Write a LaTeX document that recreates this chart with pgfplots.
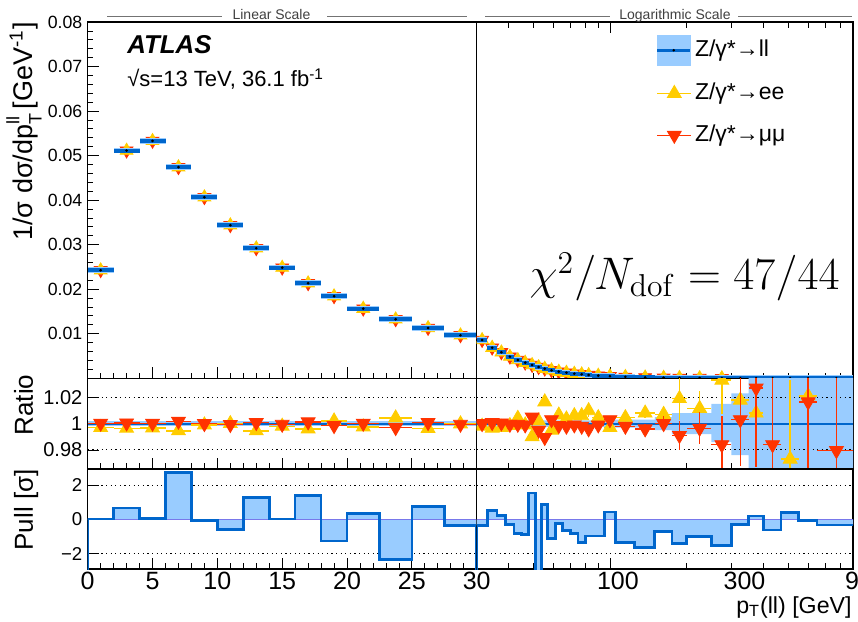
\documentclass[border=0pt]{standalone}
\usepackage[no-math]{fontspec}
\setmainfont{Liberation Sans}
\usepackage{graphicx}
\usepackage{pgfplots}
\pgfplotsset{compat=1.18}
\usepackage{pgfplotstable}
\definecolor{lb}{RGB}{153,204,255}
\definecolor{bl}{RGB}{0,102,204}
\definecolor{yel}{RGB}{255,204,0}
\definecolor{rd}{RGB}{255,51,0}
\definecolor{zl}{RGB}{120,120,235}

\pgfplotstableread{
x y xe
1 0.02425 1
3 0.05112 1
5 0.0533 1
7 0.0474 1
9 0.04065 1
11 0.03436 1
13 0.02919 1
15 0.02483 1
17 0.02132 1
19 0.0184 1
21.25 0.01562 1.25
23.75 0.01323 1.25
26.25 0.01128 1.25
28.75 0.00964 1.25
}\mainlin

\pgfplotstableread{
x y xe
31.5 0.00858 1.5
34.5 0.00686 1.5
37.5 0.00581 1.5
40.5 0.00484 1.5
43.5 0.00409 1.5
46.5 0.00349 1.5
49.5 0.00297 1.5
52.5 0.00250 1.5
55.5 0.00214 1.5
59 0.00177 2
63 0.00147 2
67.5 0.00124 2.5
72.5 0.00102 2.5
77.5 0.00087 2.5
82.5 0.00072 2.5
90 0.00058 5
100 0.00045 5
115 0.00030 10
137.5 0.00018 12.5
162.5 0.00011 12.5
187.5 0.000065 12.5
225 0.000035 25
275 0.000015 25
325 0.000007 25
375 0.0000035 25
435 0.0000016 35
510 0.0000007 40
600 0.0000003 50
775 0.0000001 125
}\mainlog

\pgfplotstableread{
x xe ee eee mm mme
1 1 0.997 0.0008 1.0003 0.0008
3 1 0.9965 0.0008 1.0005 0.0008
5 1 0.9967 0.0008 1.0003 0.0008
7 1 0.9945 0.0008 1.0018 0.0008
9 1 0.999 0.0008 1.0 0.0008
11 1 1.0 0.0008 0.9993 0.0008
13 1 0.9945 0.0008 1.0008 0.0008
15 1 0.998 0.0008 0.9995 0.0008
17 1 0.996 0.0008 1.0013 0.0008
19 1 1.002 0.0008 0.9985 0.0008
21.25 1.25 0.9975 0.0008 1.0003 0.0008
23.75 1.25 1.0043 0.0008 0.997 0.0008
26.25 1.25 0.9963 0.0008 1.0008 0.0008
28.75 1.25 0.9998 0.0008 0.9995 0.0008
}\ratiolin

\pgfplotstableread{
x xe y ye
31.5 1.5 0.998 0.001
34.5 1.5 0.9965 0.001
37.5 1.5 0.997 0.001
40.5 1.5 0.9985 0.0012
43.5 1.5 1.004 0.0015
46.5 1.5 0.999 0.0015
49.5 1.5 0.990 0.002
52.5 1.5 1.002 0.002
55.5 1.5 1.0165 0.003
59 2 0.995 0.002
63 2 1.0065 0.0025
67.5 2.5 1.0035 0.0025
72.5 2.5 1.006 0.003
77.5 2.5 1.006 0.003
82.5 2.5 1.0098 0.0045
90 5 1.0045 0.003
100 5 0.997 0.003
115 10 1.0045 0.003
137.5 12.5 1.008 0.004
162.5 12.5 1.007 0.006
187.5 12.5 1.019 0.016
225 25 1.0115 0.013
275 25 1.033 0.026
325 25 1.0178 0.03
375 25 1.008 0.012
510 40 0.973 0.06
600 50 1.021 0.05
}\ratioee

\pgfplotstableread{
x xe y ye
31.5 1.5 1.000 0.001
34.5 1.5 1.0008 0.001
37.5 1.5 1.0005 0.001
40.5 1.5 0.9995 0.0012
43.5 1.5 0.9995 0.0012
46.5 1.5 0.999 0.0015
49.5 1.5 1.005 0.002
52.5 1.5 0.995 0.002
55.5 1.5 0.9895 0.0025
59 2 1.003 0.002
63 2 0.9985 0.002
67.5 2.5 0.998 0.002
72.5 2.5 0.999 0.0025
77.5 2.5 0.998 0.003
82.5 2.5 0.996 0.003
90 5 0.999 0.0025
100 5 1.003 0.003
115 10 0.998 0.003
137.5 12.5 0.996 0.004
162.5 12.5 1.0 0.006
187.5 12.5 0.991 0.011
225 25 0.9965 0.012
275 25 0.984 0.022
325 25 1.003 0.035
375 25 1.027 0.06
435 35 0.984 0.06
600 50 1.0165 0.06
775 125 0.9795 0.06
}\ratiomm

\pgfplotsset{
  panel/.style={scale only axis, anchor=south west, tick align=inside,
    major tick length=5.5pt, minor tick length=2.8pt,
    tick style={black, line width=0.4pt},
    axis line style={line width=0.55pt},
    clip marker paths=true, scaled y ticks=false, scaled x ticks=false,
    yticklabel style={inner sep=2.5pt},
    xticklabel style={font=\fontsize{12.5}{14}\selectfont, inner sep=1.5pt}},
  linpanel/.style={panel, xmin=0, xmax=30, width=194.5pt,
    xtick={0,5,10,15,20,25,30}, minor x tick num=4},
  logpanel/.style={panel, xmin=30, xmax=900, width=188.15pt,
    xtick={100}, minor xtick={40,50,60,70,80,90,200,300,400,500,600,700,800,900},
    ytick=\empty},
  mainp/.style={at={(#1,121.9pt)}, height=178.1pt, ymin=0, ymax=0.08},
  ratp/.style={at={(#1,76.5pt)}, height=45.4pt, ymin=0.9655, ymax=1.0345},
  pullp/.style={at={(#1,26.5pt)}, height=50pt, ymin=-2.9, ymax=2.95},
  llhalo/.style={only marks, mark=*, mark size=0.01pt, lb, forget plot,
    error bars/.cd, x dir=both, x explicit, error mark=none,
    error bar style={line width=2.8pt, lb}},
  llbar/.style={only marks, mark=*, mark size=0.45pt, black, forget plot,
    error bars/.cd, x dir=both, x explicit, error mark=none,
    error bar style={line width=1.9pt, bl}},
  ptup/.style={only marks, mark=triangle*, mark size=#1, yel, forget plot},
  ptdn/.style={only marks, mark=triangle*, mark size=#1, rd, mark options={rotate=180}, forget plot},
  rerr/.style={error bars/.cd, x dir=both, x explicit, y dir=both, y explicit,
    error mark=none, error bar style={line width=0.7pt}},
  dotl/.style={black, line width=0.55pt, dash pattern=on 0.6pt off 1.7pt, forget plot},
}

\begin{document}
\begin{tikzpicture}
\useasboundingbox (0,0) rectangle (429pt,311pt);

% ---------- main linear ----------
\begin{axis}[linpanel, mainp=43.85pt, xticklabels={}, xtick pos=bottom,
  ytick={0,0.01,0.02,0.03,0.04,0.05,0.06,0.07,0.08},
  yticklabels={,0.01,0.02,0.03,0.04,0.05,0.06,0.07,0.08},
  minor y tick num=4, ytick pos=left,
  yticklabel style={font=\fontsize{8.85}{10}\selectfont}]
\addplot[ptdn=3.7pt] table[x=x,y=y] {\mainlin};
\addplot[ptup=3.7pt] table[x=x,y=y] {\mainlin};
\addplot[llhalo] table[x=x,y=y,x error=xe] {\mainlin};
\addplot[llbar] table[x=x,y=y,x error=xe] {\mainlin};
\end{axis}

% ---------- main log ----------
\begin{axis}[xmode=log, logpanel, mainp=238.35pt, xticklabels={},
  legend style={at={(0.475,0.965)}, anchor=north west, draw=none, fill=none,
    inner sep=0pt, row sep=6.75pt, font=\fontsize{11.5}{13}\selectfont,
    nodes={inner sep=1.5pt, text height=8.6pt, text depth=2.6pt}},
  legend cell align=left]
\addplot[ptdn=3.7pt, skip coords between index={23}{40}] table[x=x,y=y] {\mainlog};
\addplot[ptup=3.7pt, skip coords between index={23}{40}] table[x=x,y=y] {\mainlog};
\addplot[llhalo] table[x=x,y=y,x error=xe] {\mainlog};
\addplot[llbar] table[x=x,y=y,x error=xe] {\mainlog};
\addlegendimage{legend image code/.code={\fill[lb] (0pt,-7.5pt) rectangle (16.5pt,7.5pt);
  \draw[bl, line width=1.4pt] (0pt,0pt) -- (16.5pt,0pt);
  \fill[black] (8.25pt,0pt) circle (0.4pt);}}
\addlegendentry{Z/γ*→ll}
\addlegendimage{yel, line width=0.6pt, mark=triangle*, mark size=3.8pt}
\addlegendentry{Z/γ*→ee}
\addlegendimage{rd, line width=0.6pt, mark=triangle*, mark size=3.8pt, mark options={rotate=180}}
\addlegendentry{Z/γ*→μμ}
\end{axis}

% ---------- ratio linear ----------
\begin{axis}[linpanel, ratp=43.85pt, xticklabels={}, xtick pos=bottom,
  ytick={0.98,1,1.02}, yticklabels={0.98,1,1.02}, ytick pos=left,
  yticklabel style={font=\fontsize{10}{12}\selectfont}]
\addplot[fill=lb, draw=none, forget plot] coordinates {(0,1.002) (30,1.002) (30,0.998) (0,0.998)} -- cycle;
\addplot[dotl] coordinates {(0,1.02) (30,1.02)};
\addplot[dotl] coordinates {(0,0.98) (30,0.98)};
\addplot[bl, line width=1pt, forget plot] coordinates {(0,1) (30,1)};
\addplot[ptup=4pt, rerr] table[x=x,y=ee,x error=xe,y error=eee] {\ratiolin};
\addplot[ptdn=4pt, rerr] table[x=x,y=mm,x error=xe,y error=mme] {\ratiolin};
\end{axis}

% ---------- ratio log ----------
\begin{axis}[xmode=log, logpanel, ratp=238.35pt, xticklabels={}, xtick pos=bottom]
\addplot[fill=lb, draw=none, forget plot] coordinates {
 (30,1.0025) (100,1.0025) (100,1.003) (150,1.003) (150,1.005) (175,1.005) (175,1.008) (250,1.008)
 (250,1.015) (300,1.015) (300,1.023) (350,1.023) (350,1.06) (900,1.06)
 (900,0.94) (350,0.94) (350,0.976) (300,0.976) (300,0.986) (250,0.986) (250,0.992) (175,0.992)
 (175,0.995) (150,0.995) (150,0.997) (100,0.997) (100,0.9975) (30,0.9975)} -- cycle;
\addplot[dotl] coordinates {(30,1.02) (900,1.02)};
\addplot[dotl] coordinates {(30,0.98) (900,0.98)};
\addplot[bl, line width=1pt, forget plot] coordinates {(30,1) (900,1)};
\addplot[ptup=4pt, rerr] table[x=x,y=y,x error=xe,y error=ye] {\ratioee};
\addplot[ptdn=4pt, rerr] table[x=x,y=y,x error=xe,y error=ye] {\ratiomm};
\end{axis}

% ---------- pull linear ----------
\begin{axis}[linpanel, pullp=43.85pt, xticklabels={0,5,10,15,20,25,30}, xtick pos=bottom,
  ytick={-2,0,2}, yticklabels={−2,0,2}, ytick pos=left,
  yticklabel style={font=\fontsize{9.3}{11}\selectfont}]
\addplot[dotl] coordinates {(0,2) (30,2)};
\addplot[dotl] coordinates {(0,-2) (30,-2)};
\addplot[const plot, fill=lb, draw=none, forget plot] coordinates {
 (0,0.02) (2,0.68) (4,0.04) (6,2.75) (8,-0.06) (10,-0.58) (12,1.30) (14,0.02)
 (16,1.40) (18,-1.26) (20,0.33) (22.5,-2.36) (25,0.76) (27.5,-0.35) (30,-0.35)} \closedcycle;
\addplot[zl, line width=0.4pt, forget plot] coordinates {(0,0) (30,0)};
\addplot[const plot, bl, line width=1.3pt, forget plot] coordinates {
 (-1,-5) (0,0.02) (2,0.68) (4,0.04) (6,2.75) (8,-0.06) (10,-0.58) (12,1.30) (14,0.02)
 (16,1.40) (18,-1.26) (20,0.33) (22.5,-2.36) (25,0.76) (27.5,-0.35) (30,-5)};
\end{axis}

% ---------- pull log ----------
\begin{axis}[xmode=log, logpanel, pullp=238.35pt, xticklabels={100}, xtick pos=bottom,
  xticklabel style={xshift=4pt},
  extra x ticks={300,900}, extra x tick labels={300,900},
  extra x tick style={major tick length=2.8pt, xticklabel style={xshift=2.5pt}}]
\addplot[dotl] coordinates {(30,2) (900,2)};
\addplot[dotl] coordinates {(30,-2) (900,-2)};
\addplot[const plot, fill=lb, draw=none, forget plot] coordinates {
 (30,-0.35) (33,0.54) (36,0.23) (39,-0.29) (42,-0.81) (45,-0.87) (48,1.55) (51,-4.0)
 (54,0.87) (57,-1.12) (61,-0.23) (65,-0.66) (70,-0.83) (75,-1.36) (80,-0.97) (85,-0.97)
 (95,0.43) (105,-1.36) (125,-1.65) (150,-0.72) (175,-1.41) (200,-1.01) (250,-1.51)
 (300,-0.29) (350,0.19) (400,-0.62) (470,0.39) (550,-0.06) (650,-0.33) (900,-0.33)} \closedcycle;
\addplot[zl, line width=0.4pt, forget plot] coordinates {(30,0) (900,0)};
\addplot[const plot, bl, line width=1.3pt, forget plot] coordinates {
 (29,-5) (30,-0.35) (33,0.54) (36,0.23) (39,-0.29) (42,-0.81) (45,-0.87) (48,1.55) (51,-4.0)
 (54,0.87) (57,-1.12) (61,-0.23) (65,-0.66) (70,-0.83) (75,-1.36) (80,-0.97) (85,-0.97)
 (95,0.43) (105,-1.36) (125,-1.65) (150,-0.72) (175,-1.41) (200,-1.01) (250,-1.51)
 (300,-0.29) (350,0.19) (400,-0.62) (470,0.39) (550,-0.06) (650,-0.33) (900,-0.33)};
\end{axis}

% ---------- texts ----------
\node[anchor=base west, inner sep=0pt] at (63.5pt,284pt) {\fontsize{12.9}{14}\selectfont\bfseries\itshape ATLAS};
\node[anchor=base west, inner sep=0pt] at (63.5pt,267.5pt) {\fontsize{11}{13}\selectfont √s=13 TeV, 36.1 fb\textsuperscript{-1}};
\node[anchor=base east, inner sep=0pt] at (420pt,166pt) {\fontsize{20.74}{24}\selectfont\scalebox{1.1}{$\chi^{2}/N_{\mathrm{dof}} = 47/44$}};
\node[rotate=90, anchor=base east, inner sep=0pt] at (16.5pt,300pt) {\fontsize{13.5}{15}\selectfont 1/σ dσ/dp\rlap{\raisebox{-0.32em}{\fontsize{9}{10}\selectfont T}}\raisebox{0.5em}{\fontsize{9}{10}\selectfont ll} [GeV\textsuperscript{-1}]};
\node[rotate=90, anchor=base, inner sep=0pt] at (16.5pt,108.5pt) {\fontsize{13}{15}\selectfont Ratio};
\node[rotate=90, anchor=base, inner sep=0pt] at (16.5pt,56pt) {\fontsize{13}{15}\selectfont Pull [σ]};
\node[anchor=base east, inner sep=0pt] at (426pt,4.5pt) {\fontsize{11.6}{14}\selectfont p\textsubscript{T}(ll) [GeV]};
% scale headers
\draw[black!55, line width=0.4pt] (53.5pt,303pt) -- (111pt,303pt);
\draw[black!55, line width=0.4pt] (163.5pt,303pt) -- (233.5pt,303pt);
\node[anchor=base, inner sep=0pt, text=black!75] at (135.75pt,301pt) {\fontsize{7}{8}\selectfont Linear Scale};
\draw[black!55, line width=0.4pt] (242.5pt,303pt) -- (305pt,303pt);
\draw[black!55, line width=0.4pt] (369pt,303pt) -- (426pt,303pt);
\node[anchor=base, inner sep=0pt, text=black!75] at (337.5pt,301pt) {\fontsize{7}{8}\selectfont Logarithmic Scale};
\end{tikzpicture}
\end{document}
